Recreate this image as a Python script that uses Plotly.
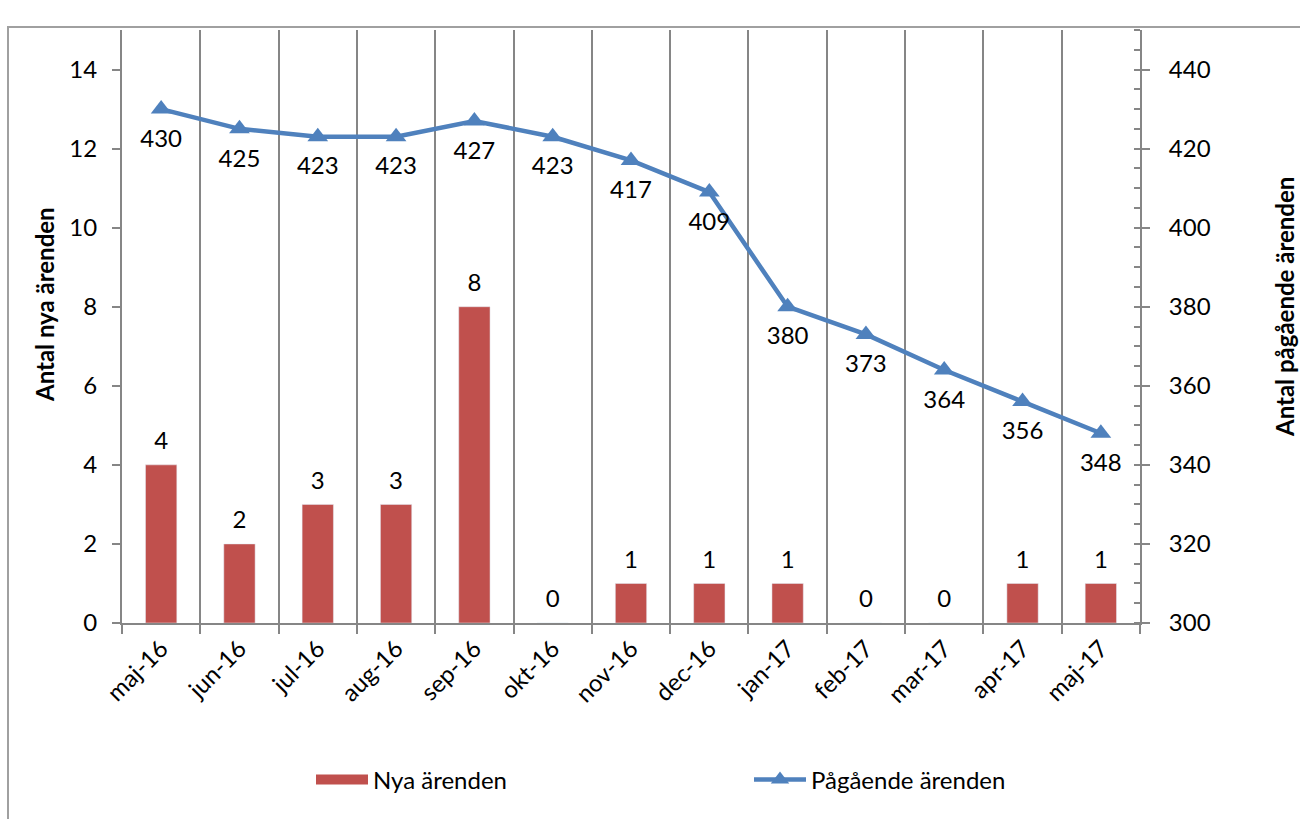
import plotly.graph_objects as go

months = ["maj-16", "jun-16", "jul-16", "aug-16", "sep-16", "okt-16", "nov-16",
          "dec-16", "jan-17", "feb-17", "mar-17", "apr-17", "maj-17"]
nya = [4, 2, 3, 3, 8, 0, 1, 1, 1, 0, 0, 1, 1]
pagaende = [430, 425, 423, 423, 427, 423, 417, 409, 380, 373, 364, 356, 348]

FONT = "Lato"
FS = 24
GRAY = "#868686"
RED = "#C0504D"
BLUE = "#4F81BD"
CLEAR = "rgba(0,0,0,0)"

W, H = 1300, 819
ML, MR, MT, MB = 122, 160, 30, 196
PW, PH = W - ML - MR, H - MT - MB

def px(x):
    return (x - ML) / PW

def py(y):
    return (H - MB - y) / PH

fig = go.Figure()
# bars
fig.add_trace(go.Bar(
    x=months, y=nya, name="Nya ärenden", marker_color=RED, width=0.4,
    showlegend=False, hoverinfo="x+y", yaxis="y",
))
# bar value labels
fig.add_trace(go.Scatter(
    x=months, y=nya, mode="markers+text", showlegend=False, hoverinfo="skip",
    marker=dict(size=14, color=CLEAR), text=[str(v) for v in nya],
    textposition="top center", cliponaxis=False,
    textfont=dict(family=FONT, size=FS, color="black"), yaxis="y",
))
# legend entry for bars (wide red swatch)
fig.add_trace(go.Scatter(
    x=[None], y=[None], mode="lines", name="Nya ärenden",
    line=dict(color=RED, width=14), yaxis="y",
))
# line
fig.add_trace(go.Scatter(
    x=months, y=pagaende, name="Pågående ärenden", mode="lines+markers",
    line=dict(color=BLUE, width=4.5), marker=dict(symbol="triangle-up", size=18, color=BLUE),
    cliponaxis=False, yaxis="y2",
))
# line value labels
fig.add_trace(go.Scatter(
    x=months, y=pagaende, mode="markers+text", showlegend=False, hoverinfo="skip",
    marker=dict(size=30, color=CLEAR), text=[str(v) for v in pagaende],
    textposition="bottom center", cliponaxis=False,
    textfont=dict(family=FONT, size=FS, color="black"), yaxis="y2",
))

fig.update_layout(
    width=W, height=H, margin=dict(l=ML, r=MR, t=MT, b=MB),
    paper_bgcolor="white", plot_bgcolor="white",
    font=dict(family=FONT, size=FS, color="black"),
    showlegend=True,
    legend=dict(orientation="h", x=px(311), xanchor="left", y=py(780), yanchor="middle",
                entrywidth=371, font=dict(family=FONT, size=FS), itemwidth=52,
                traceorder="normal"),
    xaxis=dict(type="category", tickson="boundaries", showgrid=True, gridcolor=GRAY, gridwidth=1.5,
               showline=True, linecolor=GRAY, linewidth=2, ticks="outside", ticklen=9,
               tickcolor=GRAY, tickwidth=2, tickangle=-45, tickfont=dict(family=FONT, size=FS),
               range=[-0.5, 12.5]),
    yaxis=dict(range=[0, 15], dtick=2, tick0=0, showgrid=False, zeroline=False,
               showline=True, linecolor=GRAY, linewidth=2, ticks="outside", ticklen=8,
               tickcolor=GRAY, tickwidth=2, ticklabelstandoff=10,
               tickfont=dict(family=FONT, size=FS)),
    yaxis2=dict(range=[300, 450], dtick=20, tick0=300, overlaying="y", side="right",
                showgrid=False, zeroline=False, showline=True, linecolor=GRAY, linewidth=2,
                ticks="outside", ticklen=8, tickcolor=GRAY, tickwidth=2, ticklabelstandoff=14,
                minor=dict(dtick=5, ticks="inside", ticklen=6, tickcolor=GRAY, tickwidth=2),
                tickfont=dict(family=FONT, size=FS)),
    annotations=[
        dict(text="<b>Antal nya ärenden</b>", xref="paper", yref="paper", x=px(44), y=py(305),
             xanchor="center", yanchor="middle",
             textangle=-90, showarrow=False, font=dict(family=FONT, size=24, color="black")),
        dict(text="<b>Antal pågående ärenden</b>", xref="paper", yref="paper", x=px(1284), y=py(307),
             xanchor="center", yanchor="middle",
             textangle=-90, showarrow=False, font=dict(family=FONT, size=24, color="black")),
    ],
    shapes=[
        dict(type="rect", xref="paper", yref="paper", x0=px(8), x1=px(1400), y0=py(900), y1=py(27),
             line=dict(color="#A0A0A0", width=2), fillcolor=CLEAR, layer="below"),
    ],
)

fig.write_html("out.html")
